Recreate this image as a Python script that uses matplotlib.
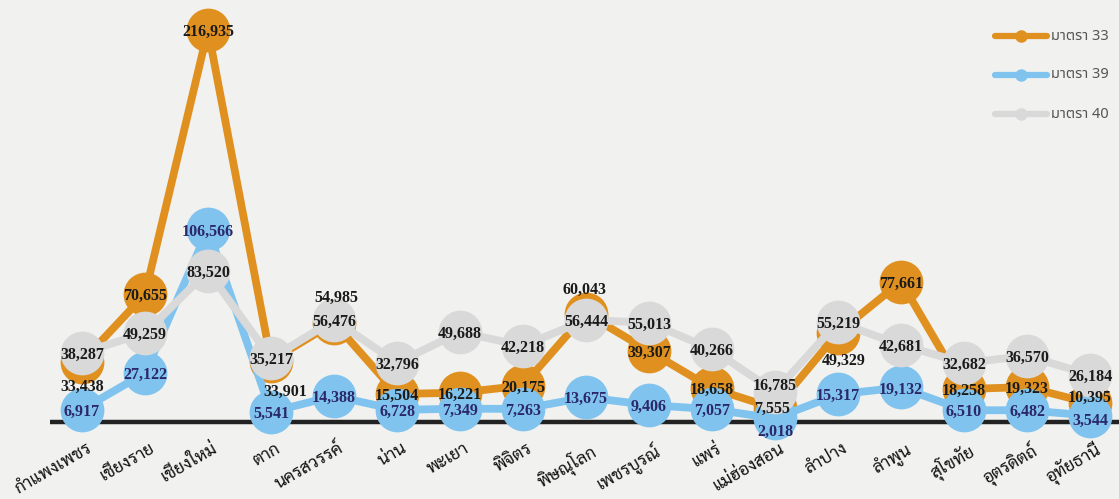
import matplotlib
matplotlib.use("Agg")
import matplotlib.pyplot as plt
from matplotlib.lines import Line2D

provinces = ["กำแพงเพชร", "เชียงราย", "เชียงใหม่", "ตาก", "นครสวรรค์", "น่าน",
             "พะเยา", "พิจิตร", "พิษณุโลก", "เพชรบูรณ์", "แพร่", "แม่ฮ่องสอน",
             "ลำปาง", "ลำพูน", "สุโขทัย", "อุตรดิตถ์", "อุทัยธานี"]
m33 = [33438, 70655, 216935, 33901, 54985, 15504, 16221, 20175, 60043,
       39307, 18658, 7555, 49329, 77661, 18258, 19323, 10395]
m39 = [6917, 27122, 106566, 5541, 14388, 6728, 7349, 7263, 13675,
       9406, 7057, 2018, 15317, 19132, 6510, 6482, 3544]
m40 = [38287, 49259, 83520, 35217, 56476, 32796, 49688, 42218, 56444,
       55013, 40266, 16785, 55219, 42681, 32682, 36570, 26184]
series_names = ["มาตรา 33", "มาตรา 39", "มาตรา 40"]

W, H, DPI = 1119, 499, 100
BG = "#F1F1EF"
colors = ["#E0901F", "#7FC3EE", "#D9D9D9"]
label_colors = ["#1A1A1A", "#2B2769", "#1A1A1A"]

# pixel mapping helpers (layout)
X0, DX = 82, 63          # px of first category, spacing
Y0, S = 422, 0.001807    # px of zero, px per unit

fig = plt.figure(figsize=(W / DPI, H / DPI), dpi=DPI, facecolor=BG)
ax = fig.add_axes([0, 0, 1, 1])
ax.set_facecolor(BG)
ax.set_xlim(-X0 / DX, (W - X0) / DX)
ax.set_ylim(-(H - Y0) / S, Y0 / S)
ax.axis("off")

# baseline
ax.plot([(50 - X0) / DX, (W - X0) / DX], [0, 0], color="#222222", lw=3.2,
        solid_capstyle="butt", zorder=1)

xs = list(range(len(provinces)))
all_series = [m33, m39, m40]
for k, vals in enumerate(all_series):
    ax.plot(xs, vals, color=colors[k], lw=5.6, marker="o", markersize=31.5,
            markeredgewidth=0, solid_capstyle="round", solid_joinstyle="round",
            zorder=2 + k)

# label offsets in pixels (dx, dy down) for labels moved off their circle
offsets = {(0, 0): (0, 23), (0, 3): (14, 29), (0, 4): (2, -27),
           (0, 8): (-2, -26), (0, 12): (6, 26), (1, 11): (0, 12),
           (2, 11): (0, -8), (0, 11): (-3, -1), (0, 16): (0, -7),
           (1, 16): (0, 3)}
for k, vals in enumerate(all_series):
    for i, v in enumerate(vals):
        dx, dy = offsets.get((k, i), (0, 0))
        ax.text(i + dx / DX, v - dy / S, f"{v:,}", ha="center", va="center_baseline",
                fontsize=11.5, fontweight="bold", family="Liberation Serif",
                color=label_colors[k], zorder=10)

# category labels
for i, name in enumerate(provinces):
    ax.text(i + 4 / DX, -18 / S, name, rotation=30, rotation_mode="anchor",
            ha="right", va="top", fontsize=12.5, family=["Sarabun", "DejaVu Sans"],
            color="#111111", zorder=10)

# legend (drawn manually in pixel positions)
leg_y = [36, 75, 114]
for k in range(3):
    yf = 1 - leg_y[k] / H
    fig.add_artist(Line2D([995 / W, 1047 / W], [yf, yf], color=colors[k], lw=4.5,
                          solid_capstyle="round", transform=fig.transFigure))
    fig.add_artist(Line2D([1021 / W], [yf], color=colors[k], marker="o",
                          markersize=9, markeredgewidth=0, transform=fig.transFigure))
    fig.text(1051 / W, yf, series_names[k], ha="left", va="center", fontsize=10.5,
             family=["Noto Sans Thai", "DejaVu Sans"], color="#555555")

fig.savefig("out.png", dpi=DPI, facecolor=BG)
